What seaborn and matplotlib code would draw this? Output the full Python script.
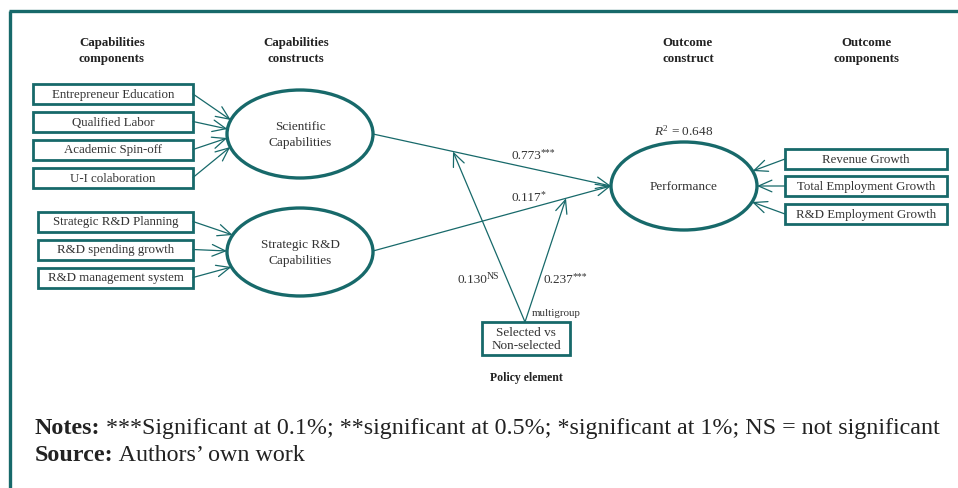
import numpy as np
import seaborn as sns
import matplotlib.pyplot as plt
from matplotlib.patches import Ellipse, Rectangle

# --- diagram content ---
sci_items = ["Entrepreneur Education", "Qualified Labor", "Academic Spin-off", "U-I colaboration"]
strat_items = ["Strategic R&D Planning", "R&D spending growth", "R&D management system"]
outcome_items = ["Revenue Growth", "Total Employment Growth", "R&D Employment Growth"]
constructs = ["Scientific\nCapabilities", "Strategic R&D\nCapabilities"]
outcome_construct = "Performance"
headers = ["Capabilities\ncomponents", "Capabilities\nconstructs", "Outcome\nconstruct", "Outcome\ncomponents"]
path_coefs = [0.773, 0.117]
path_sig = ["***", "*"]
moder_coefs = [0.130, 0.237]
moder_sig = ["NS", "***"]
r_squared = 0.648
policy_label = "Selected vs\nNon-selected"

sns.set_theme(style="white")
plt.rcParams['font.family'] = ['Liberation Serif', 'DejaVu Serif']
plt.rcParams['mathtext.fontset'] = 'custom'
plt.rcParams['mathtext.rm'] = 'Liberation Serif'
plt.rcParams['mathtext.it'] = 'Liberation Serif:italic'

TEAL = "#17696a"
TXT = "#333333"

fig = plt.figure(figsize=(9.58, 4.89), dpi=100)
ax = fig.add_axes([0, 0, 1, 1])
ax.set_xlim(0, 958)
ax.set_ylim(489, 0)
ax.axis("off")

# frame (top + left)
ax.plot([9, 958], [12, 12], color=TEAL, lw=2.4, solid_capstyle="butt")
ax.plot([10, 10], [12, 489], color=TEAL, lw=2.4, solid_capstyle="butt")


def arrow(start, tip):
    ax.annotate("", xy=tip, xytext=start,
                arrowprops=dict(arrowstyle="->,head_length=0.8,head_width=0.35",
                                color=TEAL, lw=0.9, shrinkA=0, shrinkB=0))


def box(x0, x1, yc, h, label, fs=9.3):
    ax.add_patch(Rectangle((x0, yc - h / 2), x1 - x0, h, fill=False,
                           ec=TEAL, lw=2.0))
    ax.text((x0 + x1) / 2, yc, label, ha="center", va="center",
            fontsize=fs, color=TXT)


def ell_pt(c, a, b, y, side):
    cx, cy = c
    dx = a * np.sqrt(max(0.0, 1 - ((y - cy) / b) ** 2))
    return (cx + side * dx, y)


def coef_label(x, y, value, sig):
    # number with a small raised significance mark after it
    t = ax.text(x, y, f"{value:.3f}", ha="right", va="center", fontsize=9.5,
                color=TXT)
    ax.annotate(sig, xy=(1, 1), xycoords=t, xytext=(0, 1.5),
                textcoords="offset points", ha="left", va="top",
                fontsize=7, color=TXT)


# headers
for x, h in zip([112, 296, 688, 867], headers):
    ax.text(x, 51, h, ha="center", va="center", fontsize=9.3, fontweight="bold",
            color="#222222", linespacing=1.35)

# ellipses
A, B = 73, 44
e_centers = [(300, 135), (300, 253)]
perf_c = (684, 187)
for c, lab in zip(e_centers, constructs):
    ax.add_patch(Ellipse(c, 2 * A, 2 * B, fill=False, ec=TEAL, lw=2.4))
    ax.text(c[0], c[1], lab, ha="center", va="center", fontsize=9.5,
            color=TXT, linespacing=1.35)
ax.add_patch(Ellipse(perf_c, 2 * A, 2 * B, fill=False, ec=TEAL, lw=2.4))
ax.text(perf_c[0], perf_c[1], outcome_construct, ha="center", va="center",
        fontsize=9.5, color=TXT)
ax.text(perf_c[0], 131, r"$R^{2}$" + f" = {r_squared:.3f}", ha="center",
        va="center", fontsize=9.5, color=TXT)

# scientific indicators
sci_y = [95, 122.5, 150.5, 178.5]
sci_tip = [121, 130, 139, 148]
for lab, y, ty in zip(sci_items, sci_y, sci_tip):
    box(33, 193, y, 20, lab)
    arrow((193, y), ell_pt(e_centers[0], A, B, ty, -1))

strat_y = [222.5, 250.5, 278.5]
strat_tip = [236, 252, 268]
for lab, y, ty in zip(strat_items, strat_y, strat_tip):
    box(38, 193, y, 20, lab)
    arrow((193, y), ell_pt(e_centers[1], A, B, ty, -1))

out_y = [160, 187, 215]
out_tip = [172, 187, 203]
for lab, y, ty in zip(outcome_items, out_y, out_tip):
    box(785, 947, y, 20, lab)
    arrow((785, y), ell_pt(perf_c, A, B, ty, 1))

# structural paths
perf_left = (perf_c[0] - A, perf_c[1])
p1s = (e_centers[0][0] + A, e_centers[0][1])
p2s = (e_centers[1][0] + A, e_centers[1][1] - 1)
arrow(p1s, perf_left)
arrow(p2s, perf_left)
coef_label(541, 156, path_coefs[0], path_sig[0])
coef_label(541, 198, path_coefs[1], path_sig[1])

# policy element and moderation arrows
pol_top = (525, 323)
box(482, 570, 339.5, 33, policy_label, fs=9.5)


def on_line(p, q, x):
    t = (x - p[0]) / (q[0] - p[0])
    return (x, p[1] + t * (q[1] - p[1]))


arrow(pol_top, on_line(p1s, perf_left, 453))
arrow(pol_top, on_line(p2s, perf_left, 566))
coef_label(487, 280, moder_coefs[0], moder_sig[0])
coef_label(573, 280, moder_coefs[1], moder_sig[1])
ax.text(532, 313, "multigroup", ha="left", va="center", fontsize=7.8, color=TXT)
ax.text(526, 378, "Policy element", ha="center", va="center", fontsize=8.5,
        fontweight="bold", color="#222222")

# notes
t1 = ax.text(35, 439, "Notes:", ha="left", va="bottom", fontsize=17.3,
             fontweight="bold", color="#222222")
ax.annotate(" ***Significant at 0.1%; **significant at 0.5%; *significant at 1%; NS = not significant",
            xy=(1, 0), xycoords=t1, ha="left", va="bottom", fontsize=17.3,
            color="#222222")
t2 = ax.text(35, 466, "Source:", ha="left", va="bottom", fontsize=17.3,
             fontweight="bold", color="#222222")
ax.annotate(" Authors\u2019 own work", xy=(1, 0), xycoords=t2, ha="left",
            va="bottom", fontsize=17.3, color="#222222")

fig.savefig("out.png", dpi=100)
